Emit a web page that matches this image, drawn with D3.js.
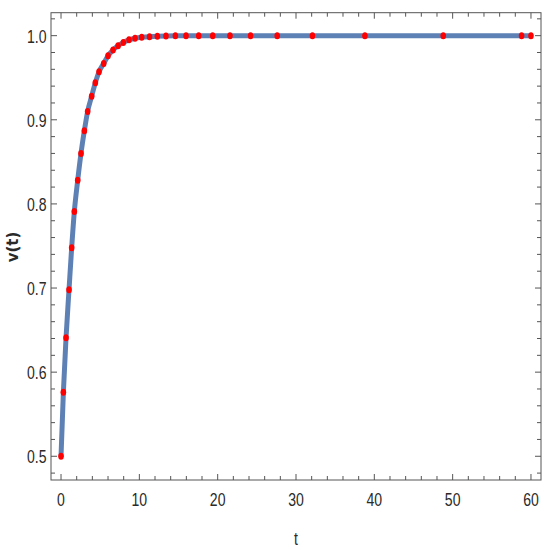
<!DOCTYPE html>
<html>
<head>
<meta charset="utf-8">
<script src="https://cdn.jsdelivr.net/npm/d3@7/dist/d3.min.js"></script>
<style>
  body { margin: 0; background: #fff; }
  .tick-label { font-family: "Liberation Sans", Arial, sans-serif; font-size: 19px; fill: #2a2a2a; }
</style>
</head>
<body>
<svg width="550" height="550"></svg>
<script>
// sample points
var tVals = [0, 0.30, 0.64, 1.02, 1.36, 1.70, 2.13, 2.55, 2.98, 3.40, 3.91, 4.38, 4.85, 5.45, 6.00,
  6.64, 7.28, 7.95, 8.68, 9.45, 10.3, 11.3, 12.3, 13.4, 14.6, 15.96, 17.58, 19.37, 21.57, 24.2,
  27.6, 32.1, 38.8, 48.8, 58.8, 60.0]
var vVals = [0.5, 0.576, 0.641, 0.698, 0.748, 0.791, 0.828, 0.860, 0.887, 0.910, 0.928, 0.944, 0.957, 0.967, 0.976,
  0.983, 0.988, 0.992, 0.995, 0.997, 0.998, 0.9988, 0.9993, 0.9996, 0.9998, 0.9999, 1.0, 1.0, 1.0, 1.0,
  1.0, 1.0, 1.0, 1.0, 1.0, 1.0]
var xMajor = [0, 10, 20, 30, 40, 50, 60]
var yMajor = [0.5, 0.6, 0.7, 0.8, 0.9, 1.0]
var yLabels = ["0.5", "0.6", "0.7", "0.8", "0.9", "1.0"]

function main(){
    var svg = d3.select("svg")
    var left = 51, right = 541, top = 12.7, bottom = 480
    var squeeze = 0.74   // narrow look of the original font

    var x = d3.scaleLinear().domain([-1.28, 61.28]).range([left, right])
    var y = d3.scaleLinear().domain([0.4718, 1.0273]).range([bottom, top])

    var data = tVals.map(function(t, i){ return {t: t, v: vVals[i]} })

    var xMinor = d3.range(0, 62, 2).filter(function(d){ return d % 10 != 0 })
    var yMinor = d3.range(48, 103, 2).map(function(d){ return d / 100 })
        .filter(function(d){ return Math.round(d * 100) % 10 != 0 })

    var axisColor = "#555"
    var g = svg.append("g")

    // ticks on all four sides, pointing in
    function xTicks(vals, len){
        vals.forEach(function(d){
            g.append("line").attr("x1", x(d)).attr("x2", x(d)).attr("y1", bottom).attr("y2", bottom - len)
                .attr("stroke", axisColor)
            g.append("line").attr("x1", x(d)).attr("x2", x(d)).attr("y1", top).attr("y2", top + len)
                .attr("stroke", axisColor)
        })
    }
    function yTicks(vals, len){
        vals.forEach(function(d){
            g.append("line").attr("y1", y(d)).attr("y2", y(d)).attr("x1", left).attr("x2", left + len)
                .attr("stroke", axisColor)
            g.append("line").attr("y1", y(d)).attr("y2", y(d)).attr("x1", right).attr("x2", right - len)
                .attr("stroke", axisColor)
        })
    }
    xTicks(xMajor, 6)
    xTicks(xMinor, 4)
    yTicks(yMajor, 6)
    yTicks(yMinor, 4)

    g.append("rect").attr("x", left).attr("y", top)
        .attr("width", right - left).attr("height", bottom - top)
        .attr("fill", "none").attr("stroke", axisColor).attr("stroke-width", 1)

    g.selectAll(".xl").data(xMajor).enter().append("text")
        .attr("class", "tick-label")
        .attr("transform", function(d){ return "translate(" + x(d) + ",506) scale(" + squeeze + ",1)" })
        .attr("text-anchor", "middle")
        .text(function(d){ return d })

    g.selectAll(".yl").data(yMajor).enter().append("text")
        .attr("class", "tick-label")
        .attr("transform", function(d){ return "translate(46.5," + (y(d) + 7) + ") scale(" + squeeze + ",1)" })
        .attr("text-anchor", "end")
        .text(function(d, i){ return yLabels[i] })

    // curve
    var line = d3.line()
        .x(function(d){ return x(d.t) })
        .y(function(d){ return y(d.v) })
        .curve(d3.curveMonotoneX)

    svg.append("path").datum(data)
        .attr("d", line)
        .attr("fill", "none")
        .attr("stroke", "#5E81B5")
        .attr("stroke-width", 5)

    svg.selectAll(".pt").data(data).enter().append("ellipse")
        .attr("class", "pt")
        .attr("cx", function(d){ return x(d.t) })
        .attr("cy", function(d){ return y(d.v) })
        .attr("rx", 2.8)
        .attr("ry", 3.5)
        .attr("fill", "#ff0000")

    svg.append("text")
        .attr("class", "tick-label")
        .attr("transform", "translate(296,545) scale(" + squeeze + ",1)")
        .attr("text-anchor", "middle")
        .text("t")

    svg.append("text")
        .attr("transform", "translate(18,247) rotate(-90)")
        .attr("text-anchor", "middle")
        .style("font-family", "'DejaVu Sans', sans-serif")
        .style("font-size", "15px")
        .style("font-weight", "bold")
        .style("fill", "#2a2a2a")
        .text("v(t)")
}
main()
</script>
</body>
</html>
